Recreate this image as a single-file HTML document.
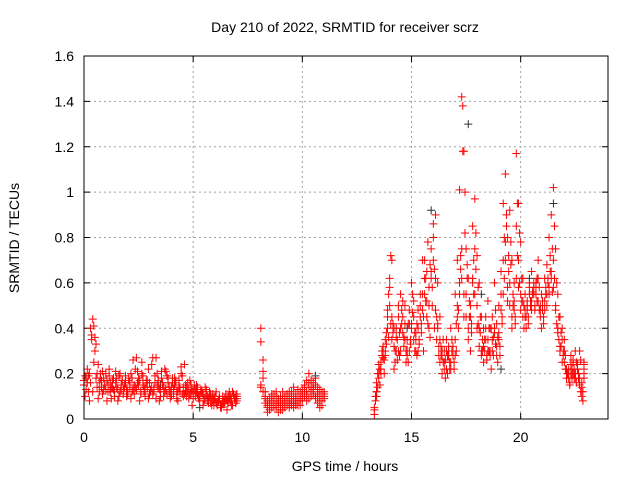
<!DOCTYPE html>
<html><head><meta charset="utf-8"><style>
body{margin:0;background:#fff}
svg{display:block;font-family:"Liberation Sans",sans-serif}
</style></head><body>
<svg id="chart" width="640" height="480">
<rect x="0" y="0" width="640" height="480" fill="#fff"/>
<text x="345" y="32" font-size="14" text-anchor="middle">Day 210 of 2022, SRMTID for receiver scrz</text>
<text x="345" y="471" font-size="14" text-anchor="middle">GPS time / hours</text>
<text transform="translate(19,238) rotate(-90)" font-size="14" text-anchor="middle">SRMTID / TECUs</text>
<g id="grid"></g><g id="ticks"></g><g id="marks"></g>
<rect x="84" y="56" width="524" height="363" fill="none" stroke="#000"/>
</svg>
<script>
const xTicks=[0,5,10,15,20];
const yTicks=[0,0.2,0.4,0.6,0.8,1,1.2,1.4,1.6];
const yTickLabels=["0","0.2","0.4","0.6","0.8","1","1.2","1.4","1.6"];
const tA=[0,0.1,0.2,0.3,0.4,0.5,0.6,0.7,0.8,0.9,1.0,1.1,1.2,1.3,1.4,1.5,1.6,1.7,1.8,1.9,2.0,2.1,2.2,2.3,2.4,2.5,2.6,2.7,2.8,2.9,3.0,3.1,3.2,3.3,3.4,3.5,3.6,3.7,3.8,3.9,4.0,4.1,4.2,4.3,4.4,4.5,4.6,4.7,4.8,4.9,5.0,5.1,5.2,5.3,5.4,5.5,5.6,5.7,5.8,5.9,6.0,6.1,6.2,6.3,6.4,6.5,6.6,6.7,6.8,6.9,7.0];
const tA2=[0.05,0.15,0.25,0.35,0.45,0.55,0.65,0.75,0.85,0.95,1.05,1.15,1.25,1.35,1.45,1.55,1.65,1.75,1.85,1.95,2.05,2.15,2.25,2.35,2.45,2.55,2.65,2.75,2.85,2.95,3.05,3.15,3.25,3.35,3.45,3.55,3.65,3.75,3.85,3.95,4.05,4.15,4.25,4.35,4.45,4.55,4.65,4.75,4.85,4.95,5.05,5.15,5.25,5.35,5.45,5.55,5.65,5.75,5.85,5.95,6.05,6.15,6.25,6.35,6.45,6.55,6.65,6.75,6.85,6.95,7.0];
const vA1=[.15,.18,.12,.40,.44,.30,.20,.16,.14,.18,.13,.15,.12,.17,.10,.14,.19,.13,.11,.16,.12,.14,.18,.11,.27,.15,.12,.19,.10,.14,.16,.24,.13,.09,.17,.12,.15,.22,.11,.14,.10,.13,.16,.08,.12,.19,.11,.14,.09,.15,.12,.10,.14,.08,.12,.09,.13,.07,.11,.08,.10,.06,.09,.05,.08,.11,.07,.10,.06,.09,.08];
const vA2=[.10,.22,.08,.35,.25,.18,.09,.20,.11,.15,.08,.19,.09,.13,.21,.08,.12,.17,.14,.10,.18,.09,.13,.22,.16,.08,.20,.12,.17,.09,.13,.11,.19,.15,.08,.21,.10,.13,.18,.09,.16,.18,.09,.14,.20,.10,.15,.12,.17,.06,.13,.15,.09,.12,.06,.14,.10,.12,.06,.09,.12,.08,.05,.10,.07,.04,.09,.06,.11,.07,.10];
const vA3=[.17,.13,.19,.16,.12,.36,.14,.12,.17,.13,.20,.12,.16,.14,.12,.18,.10,.15,.13,.19,.11,.16,.12,.15,.13,.18,.11,.15,.13,.17,.11,.14,.12,.27,.14,.10,.16,.12,.19,.12,.14,.11,.17,.12,.14,.11,.24,.10,.13,.11,.09,.13,.11,.10,.12,.08,.11,.09,.07,.11,.09,.07,.10,.06,.07,.09,.10,.08,.12,.09,.11];
const vA4=[.19,.16,.20,.37,.41,.33,.24,.18,.21,.15,.17,.22,.14,.18,.16,.13,.20,.17,.15,.13,.17,.20,.26,.14,.21,.17,.25,.14,.16,.22,.12,.27,.16,.20,.13,.18,.14,.21,.16,.12,.18,.15,.12,.17,.23,.14,.12,.16,.11,.13,.15,.12,.10,.13,.11,.09,.08,.10,.09,.06,.07,.08,.06,.07,.09,.08,.12,.09,.11,.10,.09];
const tB=[8.1,8.2,8.3,8.4,8.5,8.6,8.7,8.8,8.9,9.0,9.1,9.2,9.3,9.4,9.5,9.6,9.7,9.8,9.9,10.0,10.1,10.2,10.3,10.4,10.5,10.6,10.7,10.8,10.9,11.0];
const vB1=[.40,.26,.12,.06,.04,.08,.05,.10,.03,.07,.09,.05,.08,.12,.06,.10,.07,.13,.09,.11,.15,.08,.20,.12,.16,.10,.14,.08,.12,.10];
const vB2=[.15,.18,.07,.03,.09,.05,.11,.06,.08,.04,.12,.07,.10,.05,.09,.14,.06,.11,.08,.13,.10,.17,.09,.14,.11,.18,.07,.13,.06,.09];
const vB3=[.34,.21,.10,.08,.06,.11,.07,.05,.09,.06,.04,.10,.06,.09,.07,.05,.11,.08,.06,.10,.12,.11,.14,.17,.13,.15,.10,.05,.11,.12];
const vB4=[.14,.12,.09,.05,.07,.10,.08,.12,.07,.10,.06,.08,.11,.07,.12,.08,.09,.06,.12,.08,.14,.12,.16,.10,.13,.09,.12,.10,.08,.11];
const tC=[13.3,13.4,13.5,13.6,13.7,13.8,13.9,14.0,14.1,14.2,14.3,14.4,14.5,14.6,14.7,14.8,14.9,15.0,15.1,15.2,15.3,15.4,15.5,15.6,15.7,15.8,15.9,16.0,16.1,16.2,16.3,16.4,16.5,16.6,16.7,16.8,16.9,17.0,17.1,17.2,17.3,17.4,17.5,17.6,17.7,17.8,17.9,18.0,18.1,18.2,18.3,18.4,18.5,18.6,18.7,18.8,18.9,19.0,19.1,19.2,19.3,19.4,19.5,19.6,19.7,19.8,19.9,20.0,20.1,20.2,20.3,20.4,20.5,20.6,20.7,20.8,20.9,21.0,21.1,21.2,21.3,21.4,21.5,21.6,21.7,21.8,21.9,22.0,22.1,22.2,22.3,22.4,22.5,22.6,22.7,22.8,22.9];
const tC2=[13.35,13.45,13.55,13.65,13.75,13.85,13.95,14.05,14.15,14.25,14.35,14.45,14.55,14.65,14.75,14.85,14.95,15.05,15.15,15.25,15.35,15.45,15.55,15.65,15.75,15.85,15.95,16.05,16.15,16.25,16.35,16.45,16.55,16.65,16.75,16.85,16.95,17.05,17.15,17.25,17.35,17.45,17.55,17.65,17.75,17.85,17.95,18.05,18.15,18.25,18.35,18.45,18.55,18.65,18.75,18.85,18.95,19.05,19.15,19.25,19.35,19.45,19.55,19.65,19.75,19.85,19.95,20.05,20.15,20.25,20.35,20.45,20.55,20.65,20.75,20.85,20.95,21.05,21.15,21.25,21.35,21.45,21.55,21.65,21.75,21.85,21.95,22.05,22.15,22.25,22.35,22.45,22.55,22.65,22.75,22.85,22.9];
const vC1=[.02,.10,.18,.25,.30,.35,.45,.62,.70,.40,.30,.45,.55,.38,.50,.30,.42,.60,.52,.35,.48,.55,.70,.62,.52,.40,.75,.86,.90,.60,.45,.30,.22,.35,.28,.40,.32,.55,.70,1.01,1.42,1.18,.75,.62,.50,.85,.97,.72,.60,.45,.40,.35,.52,.30,.45,.60,.28,.38,.55,.95,1.08,.80,.92,.70,.60,1.17,.95,.78,.62,.55,.50,.60,.65,.55,.58,.70,.48,.52,.62,.68,.80,.90,1.02,.75,.55,.45,.40,.35,.22,.18,.20,.25,.30,.22,.15,.10,.25];
const vC2=[.08,.14,.22,.28,.20,.38,.55,.72,.42,.25,.35,.28,.48,.32,.25,.42,.35,.55,.30,.28,.35,.42,.30,.62,.78,.68,.50,.40,.35,.28,.32,.25,.18,.28,.22,.35,.25,.30,.40,.72,1.38,1.00,.62,.45,.38,.70,.82,.58,.45,.35,.30,.28,.40,.22,.36,.48,.25,.32,.45,.80,.90,.65,.78,.55,.45,.95,.82,.62,.50,.40,.42,.50,.55,.48,.62,.58,.40,.45,.55,.60,.65,.75,.85,.60,.45,.38,.30,.28,.20,.15,.18,.22,.25,.18,.12,.08,.20];
const vC3=[.05,.16,.24,.20,.32,.28,.40,.50,.35,.22,.40,.50,.30,.45,.35,.28,.48,.40,.45,.38,.30,.50,.48,.55,.65,.58,.62,.70,.48,.40,.25,.20,.30,.22,.32,.25,.28,.35,.50,.60,.75,.45,.55,.40,.30,.62,.75,.50,.40,.30,.25,.45,.35,.40,.30,.38,.42,.50,.65,.70,.78,.58,.60,.45,.52,.85,.70,.55,.45,.48,.52,.58,.48,.60,.55,.52,.45,.50,.48,.55,.58,.65,.70,.50,.40,.30,.35,.25,.18,.22,.28,.20,.18,.24,.30,.16,.22];
const vC4=[.10,.20,.15,.30,.26,.33,.36,.42,.38,.30,.26,.38,.42,.36,.30,.25,.33,.47,.38,.42,.33,.38,.45,.52,.42,.36,.58,.66,.45,.32,.28,.35,.26,.20,.25,.30,.22,.42,.48,.66,1.18,.82,.68,.52,.42,.55,.66,.42,.38,.30,.35,.26,.30,.40,.28,.33,.36,.28,.42,.62,.85,.72,.68,.50,.42,.72,.60,.52,.40,.45,.45,.52,.56,.50,.52,.48,.55,.42,.58,.62,.72,.56,.62,.42,.35,.32,.28,.22,.20,.16,.22,.18,.16,.20,.26,.12,.18];
const vC5=[.04,.12,.20,.22,.27,.30,.48,.58,.45,.32,.36,.30,.40,.52,.42,.35,.30,.42,.35,.30,.40,.45,.55,.70,.45,.50,.65,.80,.62,.42,.35,.28,.25,.30,.28,.22,.30,.28,.45,.55,.62,.55,.45,.35,.45,.60,.55,.40,.32,.28,.32,.40,.30,.28,.35,.40,.32,.35,.48,.55,.70,.52,.50,.40,.48,.62,.58,.48,.52,.45,.48,.55,.52,.58,.60,.62,.50,.48,.52,.50,.55,.62,.58,.48,.38,.32,.25,.30,.22,.20,.24,.26,.20,.22,.18,.14,.24];
const tK=[1.2,3.5,5.3,9.6,10.6,13.4,14.8,15.9,16.7,17.6,18.2,19.1,20.4,21.5,22.5];
const vK=[.12,.15,.05,.07,.19,.12,.40,.92,.30,1.30,.55,.22,.62,.95,.20];

const X0=84,X1=608,Y0=419,Y1=56,XMAX=24,YMAX=1.6;
function sx(h){return X0+(h/XMAX)*(X1-X0);}
function sy(v){return Y0-(v/YMAX)*(Y0-Y1);}
const NS="http://www.w3.org/2000/svg";
const grid=document.getElementById('grid'),ticks=document.getElementById('ticks'),marks=document.getElementById('marks');
function mk(tag,attrs,parent){const e=document.createElementNS(NS,tag);for(const k in attrs)e.setAttribute(k,attrs[k]);parent.appendChild(e);return e;}
xTicks.forEach(t=>{
  const x=sx(t);
  if(t>0){const g=mk('line',{x1:x,x2:x,y1:Y1,y2:Y0,stroke:'#a0a0a0','stroke-dasharray':'2,3'},grid);
  
  }
  const l=mk('text',{x:x,y:Y0+23,'font-size':14,'text-anchor':'middle'},ticks);l.textContent=t;
  
  
  mk('line',{x1:x,x2:x,y1:Y0,y2:Y0-6,stroke:'#000'},ticks);
  mk('line',{x1:x,x2:x,y1:Y1,y2:Y1+6,stroke:'#000'},ticks);
});
yTicks.forEach((t,i)=>{
  const y=sy(t);
  if(t>0&&t<YMAX){const g=mk('line',{x1:X0,x2:X1,y1:y,y2:y,stroke:'#a0a0a0','stroke-dasharray':'2,3'},grid);
  
  }
  const l=mk('text',{x:X0-10,y:y+5,'font-size':14,'text-anchor':'end'},ticks);l.textContent=yTickLabels[i];
  
  
  mk('line',{x1:X0,x2:X0+6,y1:y,y2:y,stroke:'#000'},ticks);
  mk('line',{x1:X1,x2:X1-6,y1:y,y2:y,stroke:'#000'},ticks);
});
function plot(ts,vs,color,name){
  let d='';
  for(let i=0;i<ts.length;i++){const x=sx(ts[i]),y=sy(vs[i]);d+=`M${x-4},${y}h8M${x},${y-4}v8`;}
  const p=mk('path',{d:d,stroke:color,'stroke-width':1,fill:'none'},marks);
  
  
}
plot(tK,vK,'#333','dark-points');
[[tA,vA1],[tA2,vA2],[tA,vA3],[tA2,vA4],[tB,vB1],[tB,vB2],[tB,vB3],[tB,vB4],[tC,vC1],[tC2,vC2],[tC,vC3],[tC2,vC4],[tC,vC5]].forEach(s=>plot(s[0],s[1],'#ff0000','srmtid-points'));
</script>
</body></html>
